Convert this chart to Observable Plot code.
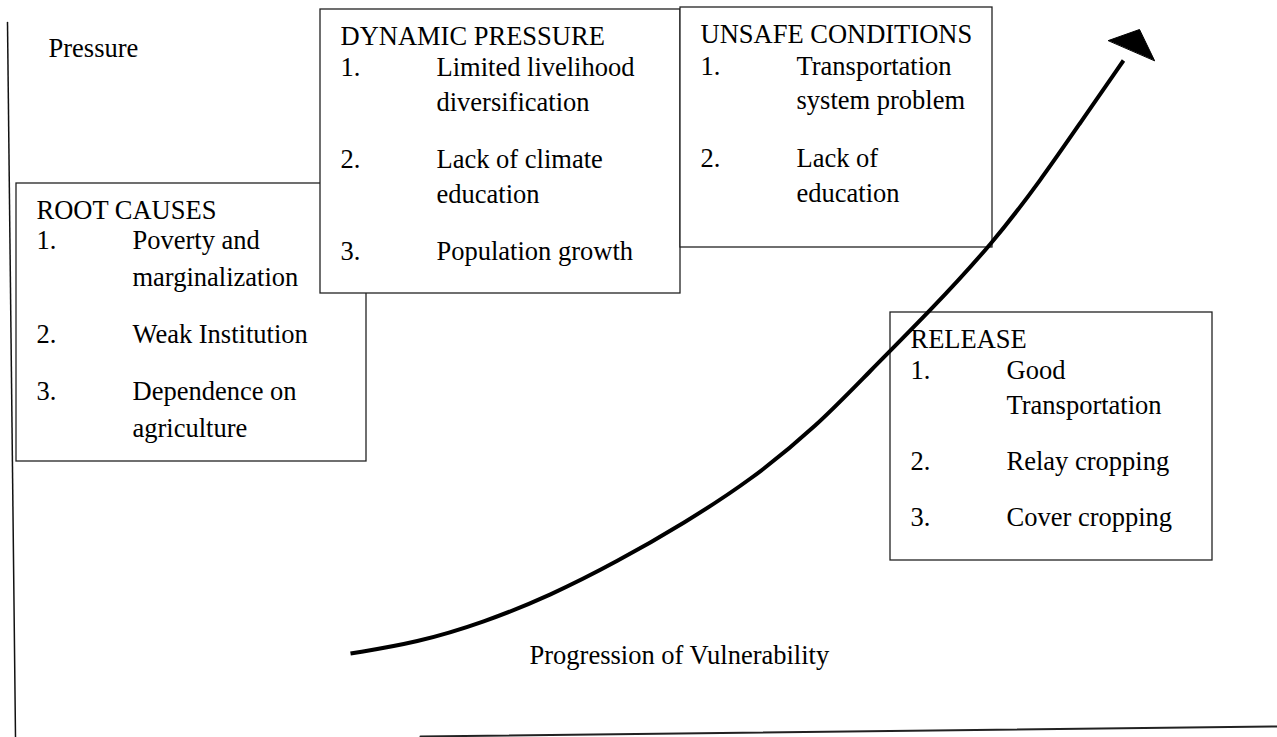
<!DOCTYPE html>
<html><head><meta charset="utf-8">
<script src="https://cdn.jsdelivr.net/npm/d3@7"></script>
<script src="https://cdn.jsdelivr.net/npm/@observablehq/plot@0.6"></script>
<style>
html,body{margin:0;padding:0;background:#fff;}
#chart svg{display:block;}
</style>
</head><body><div id="chart"></div>
<script>
// ---- content ----
const stages = ["ROOT CAUSES", "DYNAMIC PRESSURE", "UNSAFE CONDITIONS", "RELEASE"];
const rootCauses = [["Poverty and", "marginalization"], ["Weak Institution"], ["Dependence on", "agriculture"]];
const dynamicPressure = [["Limited livelihood", "diversification"], ["Lack of climate", "education"], ["Population growth"]];
const unsafeConditions = [["Transportation", "system problem"], ["Lack of", "education"]];
const releaseItems = [["Good", "Transportation"], ["Relay cropping"], ["Cover cropping"]];
const axisLabels = ["Pressure", "Progression of Vulnerability"];
// progression of vulnerability curve (diagram units)
const progressionX = [350, 417, 483, 550, 617, 683, 750, 817, 868, 930, 992, 1040, 1080, 1123];
const progressionY = [653, 642, 622, 595, 561, 523, 480, 425, 372, 310, 243, 180, 122, 60];
const arrowheadX = [1108, 1139, 1154];
const arrowheadY = [40, 29, 60];
const pressureAxisX = [7, 15];
const pressureAxisY = [22, 737];
const progressionAxisX = [420, 1277];
const progressionAxisY = [736, 726];

// ---- layout (separate from content) ----
const boxLayout = [
  {x1: 16, y1: 183, x2: 366, y2: 461, tx: 36, ty: 218, nx: 36, ix: 132, iy: 248, step: 37, gap: 57},
  {x1: 320, y1: 9, x2: 680, y2: 293, tx: 340, ty: 44, nx: 340, ix: 436, iy: 75, step: 35, gap: 57},
  {x1: 680, y1: 7, x2: 992, y2: 247, tx: 700, ty: 42, nx: 700, ix: 796, iy: 74, step: 34.5, gap: 58},
  {x1: 890, y1: 312, x2: 1212, y2: 560, tx: 910, ty: 347, nx: 910, ix: 1006, iy: 378, step: 35, gap: 56}
];
const labelLayout = [{x: 48, y: 56}, {x: 529, y: 663}];

const itemLists = [rootCauses, dynamicPressure, unsafeConditions, releaseItems];
const boxes = stages.map((s, i) => ({stage: s, ...boxLayout[i]}));
const texts = [];
stages.forEach((s, b) => {
  const L = boxLayout[b];
  texts.push({x: L.tx, y: L.ty, t: s});
  let y = L.iy;
  itemLists[b].forEach((lines, i) => {
    texts.push({x: L.nx, y, t: `${i + 1}.`});
    lines.forEach((ln, j) => texts.push({x: L.ix, y: y + j * L.step, t: ln}));
    y += (lines.length - 1) * L.step + L.gap;
  });
});
axisLabels.forEach((t, i) => texts.push({x: labelLayout[i].x, y: labelLayout[i].y, t}));

const curve = progressionX.map((x, i) => ({x, y: progressionY[i]}));
const arrow = arrowheadX.map((x, i) => ({x, y: arrowheadY[i]}));
const vAxis = pressureAxisX.map((x, i) => ({x, y: pressureAxisY[i]}));
const hAxis = progressionAxisX.map((x, i) => ({x, y: progressionAxisY[i]}));

const chart = Plot.plot({
  width: 1277, height: 737, margin: 0,
  x: {domain: [0, 1277], axis: null},
  y: {domain: [0, 737], reverse: true, axis: null},
  style: {background: "white", overflow: "visible"},
  marks: [
    Plot.line(vAxis, {x: "x", y: "y", stroke: "#111", strokeWidth: 1.5}),
    Plot.line(hAxis, {x: "x", y: "y", stroke: "#222", strokeWidth: 2}),
    Plot.rect(boxes, {x1: "x1", x2: "x2", y1: "y1", y2: "y2", fill: "white", stroke: "#222", strokeWidth: 1.3}),
    Plot.text(texts, {x: "x", y: "y", text: "t", textAnchor: "start", lineAnchor: "bottom", fontSize: 26.5, fontFamily: "Liberation Serif", fill: "black"}),
    Plot.line(curve, {x: "x", y: "y", curve: "basis", stroke: "black", strokeWidth: 4, strokeLinecap: "butt"}),
    Plot.line(arrow, {x: "x", y: "y", curve: "linear-closed", fill: "black", stroke: "black", strokeWidth: 1})
  ]
});
document.getElementById("chart").appendChild(chart);
</script></body></html>
